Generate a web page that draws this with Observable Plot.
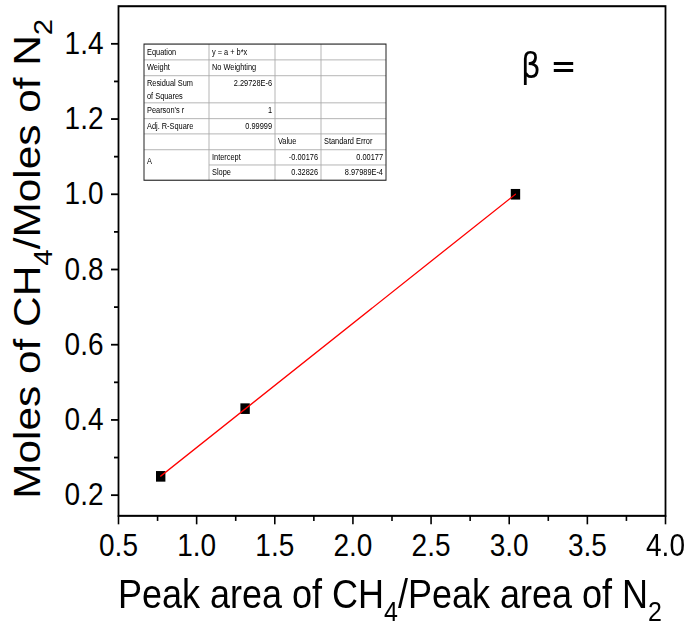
<!DOCTYPE html>
<html>
<head>
<meta charset="utf-8">
<script src="https://cdn.jsdelivr.net/npm/d3@7"></script>
<script src="https://cdn.jsdelivr.net/npm/@observablehq/plot@0.6"></script>
<style>
  html, body { margin: 0; padding: 0; background: white; }
  #outer { width: 684px; height: 626px; overflow: hidden; background: white; }
  #wrap { width: 684px; height: 554px; transform: scaleY(1.13); transform-origin: 0 0; }
</style>
</head>
<body>
<div id="outer"><div id="wrap"></div></div>
<script>
// ---- data ----
const xValues = [0.77, 1.31, 3.04];
const yValues = [0.25, 0.43, 1.00];
const xMajorTicks = [0.5, 1.0, 1.5, 2.0, 2.5, 3.0, 3.5, 4.0];
const xMinorTicks = [0.75, 1.25, 1.75, 2.25, 2.75, 3.25, 3.75];
const yMajorTicks = [0.2, 0.4, 0.6, 0.8, 1.0, 1.2, 1.4];
const yMinorTicks = [0.3, 0.5, 0.7, 0.9, 1.1, 1.3];
const xTitle = ["Peak area of CH", "4", "/Peak area of N", "2"];
const yTitle = ["Moles of CH", "4", "/Moles of N", "2"];
const betaText = "β =";
// fit table
const fitLabels = [["Equation"], ["Weight"], ["Residual Sum", "of Squares"], ["Pearson's r"], ["Adj. R-Square"]];
const fitValues = ["y = a + b*x", "No Weighting", "2.29728E-6", "1", "0.99999"];
const paramHeaders = ["Value", "Standard Error"];
const paramGroup = "A";
const paramNames = ["Intercept", "Slope"];
const paramValues = ["-0.00176", "0.32826"];
const paramErrors = ["0.00177", "8.97989E-4"];

const points = xValues.map((x, i) => ({x, y: yValues[i]}));
const FONT = "'Liberation Sans', Arial, sans-serif";

const chart = Plot.plot({
  width: 684,
  height: 554,
  marginLeft: 118,
  marginRight: 19,
  marginTop: 5,
  marginBottom: 98,
  x: {domain: [0.5, 4.0]},
  y: {domain: [0.145, 1.5]},
  style: {fontFamily: FONT, fontSize: "28px", color: "black", background: "white", overflow: "visible"},
  marks: [
    Plot.axisX({ticks: xMajorTicks, tickSize: 8, tickPadding: 8, tickFormat: d3.format(".1f"), label: null, fontSize: 28, strokeWidth: 1.6}),
    Plot.axisX({ticks: xMinorTicks, tickSize: 5, tickFormat: () => "", label: null, strokeWidth: 1.6}),
    Plot.axisY({ticks: yMajorTicks, tickSize: 7, tickPadding: 8, tickFormat: d3.format(".1f"), label: null, fontSize: 28, strokeWidth: 1.6}),
    Plot.axisY({ticks: yMinorTicks, tickSize: 4, tickFormat: () => "", label: null, strokeWidth: 1.6}),
    Plot.frame({stroke: "black", strokeWidth: 1.8}),
    Plot.dot(points, {x: "x", y: "y", symbol: "square", r: 5.3, fill: "black", stroke: null}),
    Plot.linearRegressionY(points, {x: "x", y: "y", stroke: "red", strokeWidth: 1.2, ci: 0})
  ]
});
document.getElementById("wrap").appendChild(chart);

const svg = d3.select(chart);

function addTitle(g, parts, size) {
  const t = g.append("text").attr("text-anchor", "middle").attr("fill", "black")
    .style("font-family", FONT).style("font-size", size + "px");
  const sub = Math.round(size * 0.7);
  const shift = size * 0.32;
  t.append("tspan").text(parts[0]);
  t.append("tspan").style("font-size", sub + "px").attr("dy", shift).text(parts[1]);
  t.append("tspan").attr("dy", -shift).text(parts[2]);
  t.append("tspan").style("font-size", sub + "px").attr("dy", shift).text(parts[3]);
  return t;
}
addTitle(svg.append("g").attr("transform", "translate(390,538)"), xTitle, 36);
addTitle(svg.append("g").attr("transform", "translate(40,229) rotate(-90)"), yTitle, 37.5);

svg.append("text").attr("x", 521).attr("y", 69).attr("fill", "black").attr("text-anchor", "start")
  .style("font-family", "'DejaVu Sans', sans-serif").style("font-size", "31px").text(betaText);

// ---- fit table ----
const colX = [144, 209, 275, 321, 386];
const rowH = [14, 14, 24, 14, 13.5, 14, 13.5, 13.5];
const rowY = [39];
rowH.forEach(h => rowY.push(rowY[rowY.length - 1] + h));
const tg = svg.append("g").style("font-family", FONT).style("font-size", "7.4px")
  .attr("fill", "black").attr("text-anchor", "start");
tg.append("rect").attr("x", colX[0]).attr("y", rowY[0]).attr("width", colX[4] - colX[0]).attr("height", rowY[8] - rowY[0])
  .attr("fill", "white").attr("stroke", "none");
const grid = tg.append("g").attr("stroke", "#a8a8a8").attr("stroke-width", 0.8);
for (let i = 1; i < 8; i++) {
  grid.append("line").attr("x1", i === 7 ? colX[1] : colX[0]).attr("x2", colX[4]).attr("y1", rowY[i]).attr("y2", rowY[i]);
}
for (let j = 1; j < 4; j++) {
  grid.append("line").attr("x1", colX[j]).attr("x2", colX[j]).attr("y1", rowY[0]).attr("y2", rowY[8]);
}
tg.append("rect").attr("x", colX[0]).attr("y", rowY[0]).attr("width", colX[4] - colX[0]).attr("height", rowY[8] - rowY[0])
  .attr("fill", "none").attr("stroke", "#222").attr("stroke-width", 1);

function cell(text, col, row, align, line = 0) {
  const x = align === "end" ? colX[col + 1] - 3 : colX[col] + 3;
  tg.append("text").attr("x", x).attr("y", rowY[row] + 9.3 + line * 11.5)
    .attr("text-anchor", align).text(text);
}
fitLabels.forEach((lines, i) => lines.forEach((s, k) => cell(s, 0, i, "start", k)));
fitValues.forEach((v, i) => cell(v, 1, i, i < 2 ? "start" : "end"));
cell(paramHeaders[0], 2, 5, "start");
cell(paramHeaders[1], 3, 5, "start");
tg.append("text").attr("x", colX[0] + 3).attr("y", (rowY[6] + rowY[8]) / 2 - 1).text(paramGroup);
paramNames.forEach((n, i) => cell(n, 1, 6 + i, "start"));
paramValues.forEach((v, i) => cell(v, 2, 6 + i, "end"));
paramErrors.forEach((v, i) => cell(v, 3, 6 + i, "end"));
</script>
</body>
</html>
